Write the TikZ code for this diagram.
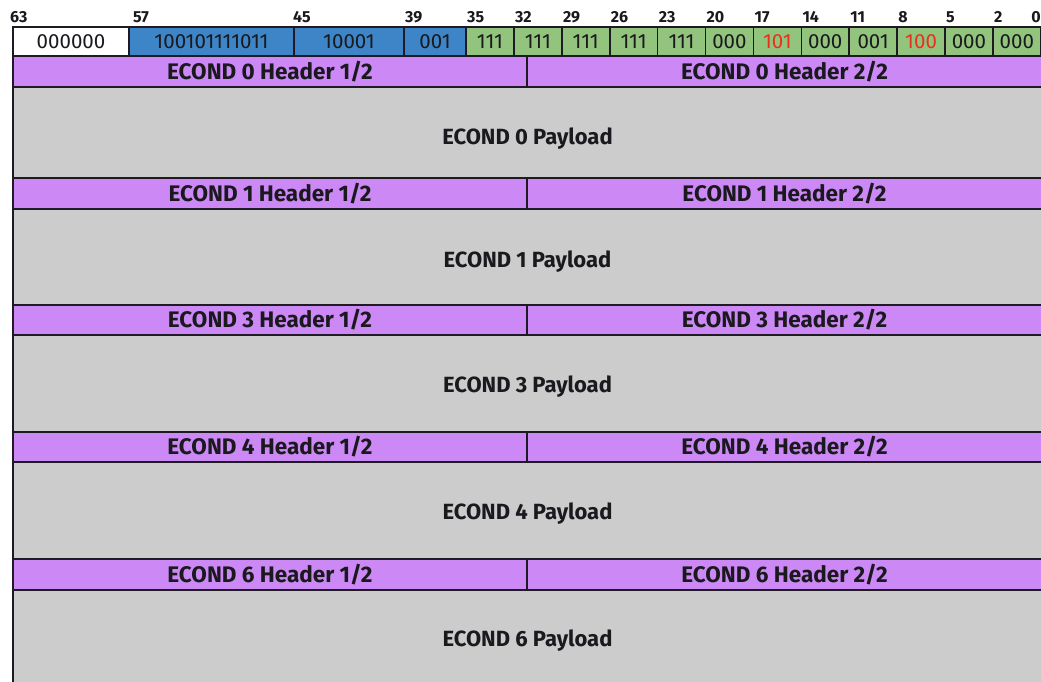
\documentclass[tikz,border=0pt]{standalone}
\usepackage{fontspec}
\setmainfont{Fira Sans}
\definecolor{cellblue}{RGB}{61,133,198}
\definecolor{cellgreen}{RGB}{147,196,125}
\definecolor{hdrpurple}{RGB}{204,136,245}
\definecolor{paygray}{RGB}{204,204,204}
\definecolor{bitred}{RGB}{230,50,30}
\definecolor{edge}{RGB}{30,25,35}
\definecolor{ink}{RGB}{25,25,30}
\begin{document}
\begin{tikzpicture}[x=1pt,y=-1pt,
  box/.style={draw=edge,line width=1.6pt,inner sep=0pt,outer sep=0pt,anchor=north west},
  bitcell/.style={box,minimum height=29pt,font=\fontsize{20.5}{20.5}\selectfont,text=ink},
  bitlabel/.style={anchor=base west,inner sep=0pt,font=\bfseries\fontsize{16}{16}\selectfont,text=ink},
  hdr/.style={box,fill=hdrpurple,font=\bfseries\fontsize{22.5}{22.5}\selectfont,text=ink},
  pay/.style={box,fill=paygray},
  paytext/.style={inner sep=0pt,font=\bfseries\fontsize{22}{22}\selectfont,text=ink}]
\useasboundingbox (0,0) rectangle (1041,682);
\fill[white] (0,0) rectangle (1041,682);
% top bit row
\node[bitcell,fill=white,minimum width=116pt] (b63) at (13,27) {000000};
\node[bitcell,fill=cellblue,minimum width=165pt] (b57) at (129,27) {100101111011};
\node[bitcell,fill=cellblue,minimum width=110pt] (b45) at (294,27) {10001};
\node[bitcell,fill=cellblue,minimum width=62pt] (b39) at (404,27) {001};
\foreach \v/\c/\l [count=\i from 0] in {111/ink/35,111/ink/32,111/ink/29,111/ink/26,111/ink/23,000/ink/20,101/bitred/17,000/ink/14,001/ink/11,100/bitred/8,000/ink/5,000/ink/2}{
  \node[bitcell,fill=cellgreen,minimum width=47.9pt,text=\c] (g\i) at (466+47.9*\i,27) {\v};
  \node[bitlabel] (lg\i) at ([xshift=1pt,yshift=4pt]g\i.north west) {\l};
}
\node[bitlabel] (l63) at ([xshift=-3pt,yshift=4pt]b63.north west) {63};
\node[bitlabel] (l57) at ([xshift=4pt,yshift=4pt]b57.north west) {57};
\node[bitlabel] (l45) at ([xshift=-1pt,yshift=4pt]b45.north west) {45};
\node[bitlabel] (l39) at ([xshift=1pt,yshift=4pt]b39.north west) {39};
\node[bitlabel,anchor=base east] (l0) at ([xshift=0pt,yshift=4pt]g11.north east) {0};
% header and payload rows
\foreach \n/\rtop/\rmid/\rbot/\dy in {0/56/87/178/6,1/178/209/305/5,3/305/335/432/3,4/432/462/559/3,6/559/590/690/1}{
  \pgfmathsetmacro{\hh}{\rmid-\rtop}
  \pgfmathsetmacro{\ph}{\rbot-\rmid}
  \node[pay,minimum width=1029pt,minimum height=\ph pt] (p\n) at (13,\rmid) {};
  \node[paytext] (t\n) at ([yshift=-\dy pt]p\n.center) {ECOND \n\ Payload};
  \node[hdr,minimum width=514pt,minimum height=\hh pt] (h\n a) at (13,\rtop) {ECOND \n\ Header 1/2};
  \node[hdr,minimum width=515pt,minimum height=\hh pt] (h\n b) at (527,\rtop) {ECOND \n\ Header 2/2};
}
\end{tikzpicture}
\end{document}
